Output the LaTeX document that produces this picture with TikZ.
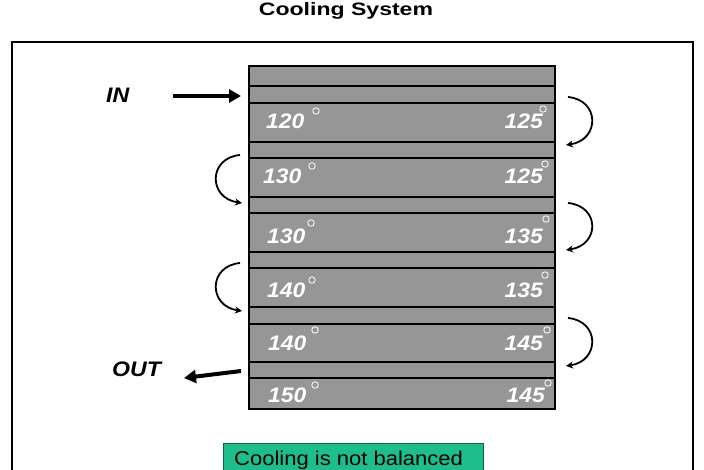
\documentclass[tikz,border=0pt]{standalone}
\usepackage{fontspec}
\setmainfont{Liberation Sans}
\newfontfamily\widesans[FakeStretch=1.09]{Liberation Sans}
\newfontfamily\titlesans[FakeStretch=1.28]{Liberation Sans}
\newfontfamily\notesans[FakeStretch=1.1]{Liberation Sans}
\newfontfamily\sidesans[FakeStretch=1.1]{Liberation Sans}
\usetikzlibrary{arrows.meta}
\definecolor{boxgray}{RGB}{150,150,150}
\definecolor{notegreen}{RGB}{30,190,140}
\definecolor{notegreendark}{RGB}{10,100,70}
\tikzset{
  numtxt/.style={text=white,font=\widesans\fontsize{21}{21}\selectfont\bfseries\itshape,inner sep=0pt},
  degtxt/.style={draw=white,line width=0.8pt,circle,inner sep=0pt,minimum size=6.5pt},
  sidetxt/.style={font=\sidesans\fontsize{21}{21}\selectfont\bfseries\itshape,inner sep=0pt},
  bigarrow/.style={line width=4pt,-{Triangle[length=12pt,width=13pt]}},
  turnarrow/.style={line width=1.8pt,-{Stealth[length=7pt,width=7pt]}},
  sep/.style={line width=2pt}
}
\begin{document}
\begin{tikzpicture}[x=1pt,y=-1pt]
\useasboundingbox (0,0) rectangle (704,469);
\fill[white] (0,0) rectangle (704,469);
% title
\node[font=\titlesans\fontsize{18}{18}\selectfont\bfseries,inner sep=0pt] (title) at (346,11) {Cooling System};
% outer frame
\draw[line width=2pt] (12,480) -- (12,42) -- (692.5,42) -- (692.5,480);
% main box
\node[draw=black,line width=2.2pt,fill=boxgray,minimum width=306pt,minimum height=343pt,inner sep=0pt,anchor=north west] (box) at (248,65) {};
\foreach \yy in {86,103,142,158,197,213,252,268,307,324,362,378}
  \draw[sep] (248,\yy) -- (554,\yy);
% numbers
\node[numtxt,anchor=base west] (l1) at (266,128) {120};
\node[numtxt,anchor=base east] (r1) at (543,128) {125};
\node[numtxt,anchor=base west] (l2) at (263,183) {130};
\node[numtxt,anchor=base east] (r2) at (543,183) {125};
\node[numtxt,anchor=base west] (l3) at (267,243) {130};
\node[numtxt,anchor=base east] (r3) at (543,243) {135};
\node[numtxt,anchor=base west] (l4) at (267,297) {140};
\node[numtxt,anchor=base east] (r4) at (543,297) {135};
\node[numtxt,anchor=base west] (l5) at (268,350) {140};
\node[numtxt,anchor=base east] (r5) at (543,350) {145};
\node[numtxt,anchor=base west] (l6) at (268,402) {150};
\node[numtxt,anchor=base east] (r6) at (545,402) {145};
% degree marks
\node[degtxt] (dl1) at (316,111) {};
\node[degtxt] (dr1) at (543,109) {};
\node[degtxt] (dl2) at (312,166) {};
\node[degtxt] (dr2) at (545,164) {};
\node[degtxt] (dl3) at (311,223) {};
\node[degtxt] (dr3) at (546,219) {};
\node[degtxt] (dl4) at (312,280) {};
\node[degtxt] (dr4) at (545,275) {};
\node[degtxt] (dl5) at (315,330) {};
\node[degtxt] (dr5) at (547,330) {};
\node[degtxt] (dl6) at (315,385) {};
\node[degtxt] (dr6) at (548,383) {};
% IN / OUT
\node[sidetxt,anchor=west] (in) at (106,95) {IN};
\node[sidetxt,anchor=west] (out) at (112,369) {OUT};
\coordinate (inA) at (173,96);
\coordinate (inB) at (241,96);
\draw[bigarrow] (inA) -- (inB);
\coordinate (outA) at (241,371);
\coordinate (outB) at (184,378);
\draw[bigarrow] (outA) -- (outB);
% turning arrows right
\coordinate (ra1) at (568,97);  \coordinate (rb1) at (566,145);
\coordinate (ra2) at (568,203); \coordinate (rb2) at (566,250);
\coordinate (ra3) at (568,318); \coordinate (rb3) at (566,366);
\draw[turnarrow] (ra1) .. controls (600,100) and (600,140) .. (rb1);
\draw[turnarrow] (ra2) .. controls (600,206) and (600,245) .. (rb2);
\draw[turnarrow] (ra3) .. controls (600,321) and (600,361) .. (rb3);
% turning arrows left
\coordinate (la1) at (240,155); \coordinate (lb1) at (242,203);
\coordinate (la2) at (240,263); \coordinate (lb2) at (242,311);
\draw[turnarrow] (la1) .. controls (208,158) and (208,198) .. (lb1);
\draw[turnarrow] (la2) .. controls (208,266) and (208,306) .. (lb2);
% note
\node[draw=notegreendark,line width=1pt,fill=notegreen,minimum width=260pt,minimum height=40pt,anchor=north west,inner sep=0pt] (note) at (223,443) {};
\node[font=\notesans\fontsize{20}{20}\selectfont,anchor=base west,inner sep=0pt] (notetxt) at (234,465) {Cooling is not balanced};
\end{tikzpicture}
\end{document}
